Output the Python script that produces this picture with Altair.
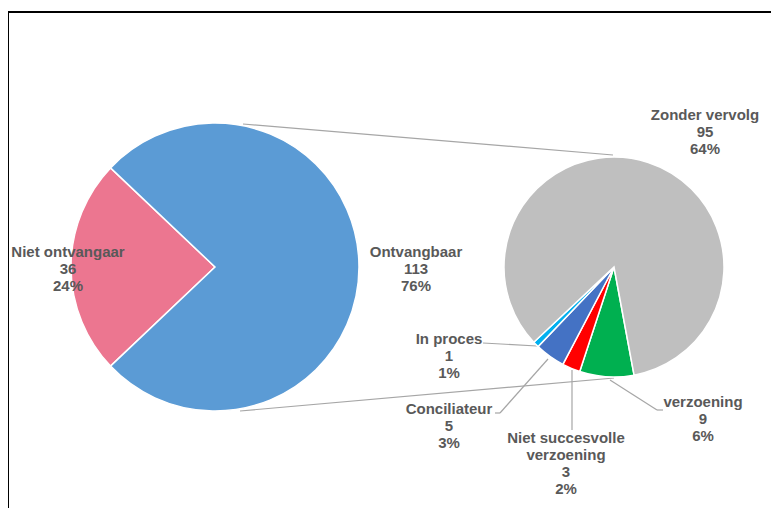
import altair as alt
import pandas as pd

# ---- data ----
main_cats = ["Niet ontvangaar", "Ontvangbaar"]
main_vals = [36, 113]
main_colors = ["#EC7690", "#5B9BD5"]

sub_cats = ["verzoening", "Niet succesvolle verzoening", "Conciliateur", "In proces", "Zonder vervolg"]
sub_vals = [9, 3, 5, 1, 95]
sub_colors = ["#00B050", "#FF0000", "#4472C4", "#00B0F0", "#BFBFBF"]

# ---- layout ----
W, H = 763, 500
L_CX, L_CY, L_R = 207, 259, 144
R_CX, R_CY, R_R = 606, 259, 110
L_START = 3.9534   # radians, start angle of first left slice
R_START = 2.958    # radians, start angle of first right slice
TWO_PI = 6.283185307179586
TXT = "#595959"
LINE = "#A6A6A6"

total = sum(main_vals)

def label(name, v):
    nm = name.replace("Niet succesvolle ", "Niet succesvolle\n")
    return f"{nm}\n{v}\n{round(v / total * 100)}%"

# label positions (first text line, offset from pie centre, pixels)
main_lab_off = {"Niet ontvangaar": (-147, -15), "Ontvangbaar": (201, -15)}
sub_lab_off = {
    "Zonder vervolg": (91, -152),
    "In proces": (-165, 72),
    "Conciliateur": (-165, 142),
    "Niet succesvolle verzoening": (-48, 171),
    "verzoening": (89, 135),
}

main_df = pd.DataFrame({
    "cat": main_cats, "val": main_vals, "idx": range(len(main_cats)),
    "lab": [label(c, v) for c, v in zip(main_cats, main_vals)],
    "lx": [L_CX + main_lab_off[c][0] for c in main_cats],
    "ly": [L_CY + main_lab_off[c][1] for c in main_cats],
})
sub_df = pd.DataFrame({
    "cat": sub_cats, "val": sub_vals, "idx": range(len(sub_cats)),
    "lab": [label(c, v) for c, v in zip(sub_cats, sub_vals)],
    "lx": [R_CX + sub_lab_off[c][0] for c in sub_cats],
    "ly": [R_CY + sub_lab_off[c][1] for c in sub_cats],
})

# connector & leader segments (relative to pie centres)
segs = [
    # connectors between pies
    (L_CX + 28, L_CY - 143, R_CX - 1, R_CY - 112),
    (L_CX + 25, L_CY + 144, R_CX, R_CY + 111),
    # leaders
    (R_CX - 131, R_CY + 76, R_CX - 77, R_CY + 79),
    (R_CX - 119, R_CY + 146, R_CX - 114, R_CY + 146),
    (R_CX - 114, R_CY + 146, R_CX - 66, R_CY + 92),
    (R_CX - 42, R_CY + 103, R_CX - 42, R_CY + 163),
    (R_CX - 4, R_CY + 113, R_CX + 43, R_CY + 143),
    (R_CX + 43, R_CY + 143, R_CX + 49, R_CY + 143),
]
seg_df = pd.DataFrame(segs, columns=["x", "y", "x2", "y2"])

frame = alt.Chart(pd.DataFrame({"a": [0]})).mark_rect(
    fill=None, stroke="#000000", strokeWidth=2
).encode(
    x=alt.value(0), x2=alt.value(W + 20), y=alt.value(4), y2=alt.value(H + 20)
)

lines = alt.Chart(seg_df).mark_rule(color=LINE, strokeWidth=1.2).encode(
    x=alt.X("x:Q", scale=None), y=alt.Y("y:Q", scale=None),
    x2="x2:Q", y2="y2:Q",
)

main_pie = alt.Chart(main_df).mark_arc(
    outerRadius=L_R, stroke="white", strokeWidth=1.5
).encode(
    theta=alt.Theta("val:Q", stack=True, scale=alt.Scale(range=[L_START, L_START + TWO_PI])),
    order=alt.Order("idx:Q"),
    color=alt.Color("cat:N", scale=alt.Scale(domain=main_cats, range=main_colors), legend=None),
    x=alt.value(L_CX), y=alt.value(L_CY),
)

sub_pie = alt.Chart(sub_df).mark_arc(
    outerRadius=R_R, stroke="white", strokeWidth=1.5
).encode(
    theta=alt.Theta("val:Q", stack=True, scale=alt.Scale(range=[R_START, R_START + TWO_PI])),
    order=alt.Order("idx:Q"),
    color=alt.Color("cat:N", scale=alt.Scale(domain=sub_cats, range=sub_colors), legend=None),
    x=alt.value(R_CX), y=alt.value(R_CY),
)

text_props = dict(font="Liberation Sans", fontWeight="bold", fontSize=15,
                  color=TXT, lineBreak="\n", lineHeight=17, align="center",
                  baseline="middle")

main_txt = alt.Chart(main_df).mark_text(**text_props).encode(
    x=alt.X("lx:Q", scale=None), y=alt.Y("ly:Q", scale=None), text="lab:N"
)
sub_txt = alt.Chart(sub_df).mark_text(**text_props).encode(
    x=alt.X("lx:Q", scale=None), y=alt.Y("ly:Q", scale=None), text="lab:N"
)

chart = alt.layer(frame, lines, main_pie, sub_pie, main_txt, sub_txt).resolve_scale(
    theta="independent", color="independent"
).properties(
    width=W, height=H, autosize="none", padding=0, background="white"
).configure_view(stroke=None)

chart.save("out.html", embed_options={"renderer": "svg", "actions": False})
